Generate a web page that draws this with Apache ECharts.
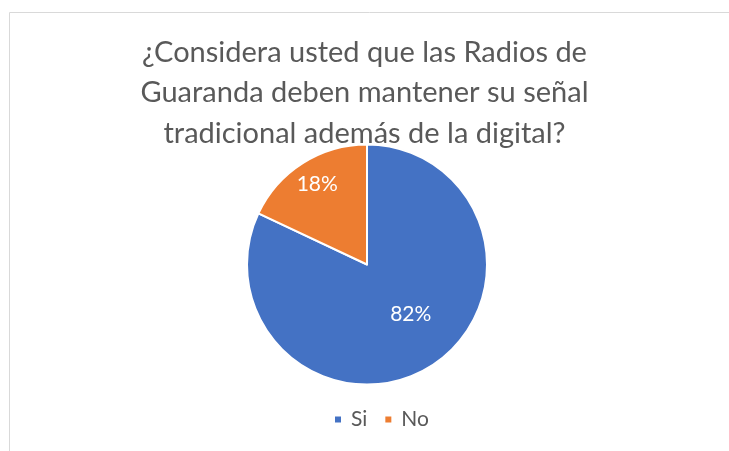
<!DOCTYPE html>
<html>
<head>
<meta charset="utf-8">
<script src="https://cdn.jsdelivr.net/npm/echarts@6/dist/echarts.min.js"></script>
<style>
  html, body {margin: 0; padding: 0; background: #fff;}
  #main {width: 729px; height: 451px;}
</style>
</head>
<body>
<div id="main"></div>
<script>
const titleText = '¿Considera usted que las Radios de\nGuaranda deben mantener su señal\ntradicional además de la digital?';
const categories = ['Si', 'No'];
const values = [82, 18];
const colors = ['#4472C4', '#ED7D31'];
// small nudges so labels sit where the original puts them
const labelShift = [[10, -3], [-16, -27]];

const chart = echarts.init(document.getElementById('main'));
chart.setOption({
  animation: false,
  textStyle: {fontFamily: 'Lato'},
  graphic: [{
    type: 'rect',
    shape: {x: 9.5, y: 12.5, width: 800, height: 500},
    style: {fill: 'none', stroke: '#d9d9d9', lineWidth: 1},
    silent: true
  }],
  title: {
    text: titleText,
    left: 'center',
    top: 27,
    padding: [5, 5, 5, 14],
    textStyle: {
      fontFamily: 'Lato',
      fontWeight: 'normal',
      fontSize: 29,
      lineHeight: 40.5,
      color: '#595959'
    }
  },
  legend: {
    bottom: 16,
    left: 328,
    itemWidth: 8,
    itemHeight: 8,
    itemGap: 16,
    icon: 'rect',
    textStyle: {fontSize: 21, color: '#595959', padding: [0, 0, 0, 4]},
    data: categories
  },
  series: [{
    type: 'pie',
    center: [367, 264.5],
    radius: [0, 120],
    startAngle: 90,
    clockwise: true,
    itemStyle: {borderColor: '#fff', borderWidth: 2},
    label: {
      position: 'inside',
      formatter: '{c}%',
      color: '#fff',
      fontSize: 21
    },
    labelLayout: function (p) {
      const s = labelShift[p.dataIndex];
      return {dx: s[0], dy: s[1]};
    },
    emphasis: {disabled: true},
    data: categories.map((c, i) => ({name: c, value: values[i], itemStyle: {color: colors[i]}}))
  }]
});
</script>
</body>
</html>
